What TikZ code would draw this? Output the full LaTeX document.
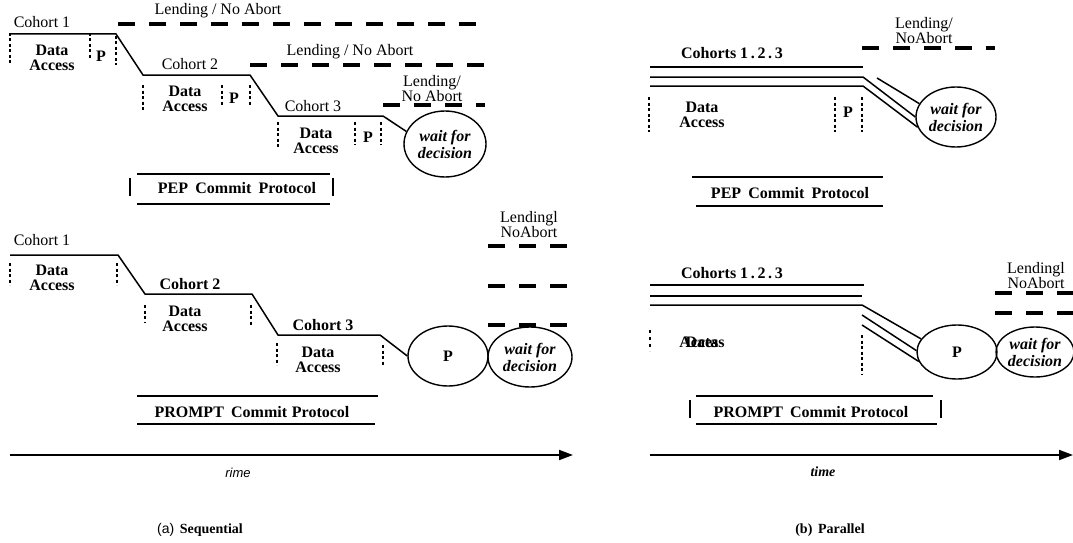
\documentclass[tikz,border=0pt]{standalone}
\usepackage{fontspec}
\setmainfont{Liberation Serif}
\newfontfamily\sansf{Liberation Sans}
\usetikzlibrary{shapes.geometric,arrows.meta}
\begin{document}
\begin{tikzpicture}[x=1pt,y=-1pt,
  ln/.style={line width=1.5pt},
  lend/.style={line width=3.5pt, dash pattern=on 17pt off 14pt},
  vd/.style={line width=1.1pt, dash pattern=on 3pt off 2.5pt},
  brk/.style={line width=2.6pt},
  bub/.style={draw, ellipse, line width=1.4pt, inner sep=0pt},
  txt/.style={inner sep=0pt, align=center, font=\fontsize{16}{15}\selectfont},
  btxt/.style={inner sep=0pt, align=center, font=\fontsize{16}{15}\selectfont\bfseries},
  itx/.style={inner sep=0pt, align=center, font=\fontsize{16}{17}\selectfont\bfseries\itshape},
  axis/.style={line width=1.8pt, -{Triangle[length=14pt,width=10pt]}}
]
\useasboundingbox (0,0) rectangle (1073,543);

% ================= (a) PEP sequential =================
\node[txt] (a1c1) at (42,22) {Cohort 1};
\node[txt] (a1c2) at (190,64) {Cohort 2};
\node[txt] (a1c3) at (313,106) {Cohort 3};
\node[btxt] (a1d1) at (52,58) {Data\\Access};
\node[btxt] (a1d2) at (185,99) {Data\\Access};
\node[btxt] (a1d3) at (316,141) {Data\\Access};
\node[btxt] (a1p1) at (101,56) {P};
\node[btxt] (a1p2) at (234,98) {P};
\node[btxt] (a1p3) at (368,137) {P};
\node[bub, minimum width=82pt, minimum height=66pt] (a1w) at (445,144) {};
\node[itx] at (a1w) {wait for\\decision};
\draw[ln] (10,34) -- (116,34) -- (143,75) -- (250,75) -- (278,116) -- (383,116) -- (a1w.162);
\node[txt] (a1l1) at (218,11) {Lending / No Abort};
\node[txt] (a1l2) at (350,52) {Lending / No Abort};
\node[txt] (a1l3) at (432,89) {Lending/\\No Abort};
\draw[lend] (118,24) -- (485,24);
\draw[lend] (250,65) -- (485,65);
\draw[lend] (383,105) -- (485,105);
\foreach \x/\ya/\yb in {10/33/63, 90/33/60, 116/36/65, 143/85/110, 222/85/105, 250/85/105, 278/122/147, 355/122/145, 381/122/145}
  \draw[vd] (\x,\ya) -- (\x,\yb);
\node[btxt] (a1pep) at (237,188) {PEP\hspace{0.45em}Commit\hspace{0.45em}Protocol};
\draw[ln] (137,174) -- (330,174);
\draw[ln] (137,204) -- (330,204);
\draw[brk] (130,178) -- (130,196);
\draw[brk] (333,178) -- (333,196);

% ================= (a) PROMPT sequential =================
\node[txt] (a2c1) at (42,240) {Cohort 1};
\node[btxt] (a2c2) at (190,284) {Cohort 2};
\node[btxt] (a2c3) at (323,325) {Cohort 3};
\node[btxt] (a2d1) at (52,278) {Data\\Access};
\node[btxt] (a2d2) at (185,319) {Data\\Access};
\node[btxt] (a2d3) at (318,360) {Data\\Access};
\node[bub, minimum width=80pt, minimum height=60pt] (a2p) at (448,356) {};
\node[btxt] at (a2p) {P};
\node[bub, minimum width=84pt, minimum height=60pt] (a2w) at (530,357) {};
\node[itx] at (a2w) {wait for\\decision};
\draw[ln] (10,255) -- (118,255) -- (145,294) -- (252,294) -- (278,335) -- (380,335) -- (a2p.west);
\foreach \x/\ya/\yb in {10/263/285, 117/263/285, 145/305/323, 251/305/325, 277/343/365, 383/345/365}
  \draw[vd] (\x,\ya) -- (\x,\yb);
\node[txt] (a2l) at (529,225) {Lendingl\\NoAbort};
\draw[lend] (488,246) -- (572,246);
\draw[lend] (488,286) -- (572,286);
\draw[lend] (488,325) -- (572,325);
\node[btxt] (a2pr) at (252,412) {PROMPT\hspace{0.45em}Commit\hspace{0.3em}Protocol};
\draw[ln] (137,396) -- (378,396);
\draw[ln] (137,424) -- (375,424);

% axis (a)
\coordinate (a0) at (10,455);
\coordinate (a9) at (573,455);
\draw[axis] (a0) -- (a9);
\node[inner sep=0pt, font=\sansf\itshape\fontsize{13}{14}\selectfont] (arime) at (238,473) {rime};
\node[inner sep=0pt, font=\fontsize{14}{15}\selectfont] (acap) at (200,530) {{\sansf (a)}\hspace{0.4em}\textbf{Sequential}};

% ================= (b) PEP parallel =================
\node[btxt] (b1c) at (732,53) {Cohorts 1\,.\,2\,.\,3};
\node[bub, minimum width=80pt, minimum height=60pt] (b1w) at (956,117) {};
\node[itx] at (b1w) {wait for\\decision};
\draw[ln] (650,67) -- (863,67);
\draw[ln] (650,77) -- (863,77) -- (b1w.180);
\draw[ln] (650,86) -- (863,86) -- (b1w.195);
\coordinate (b1s) at (877,78);
\draw[ln] (b1s) -- (b1w.160);
\foreach \x in {649,835,862}
  \draw[vd] (\x,97) -- (\x,132);
\node[btxt] (b1d) at (702,115) {Data\\Access};
\node[btxt] (b1p) at (848,112) {P};
\node[txt] (b1l) at (924,31) {Lending/\\NoAbort};
\draw[lend] (862,48) -- (995,48);
\node[btxt] (b1pep) at (790,193) {PEP\hspace{0.45em}Commit\hspace{0.45em}Protocol};
\draw[ln] (692,177) -- (883,177);
\draw[ln] (696,206) -- (883,206);

% ================= (b) PROMPT parallel =================
\node[btxt] (b2c) at (732,273) {Cohorts 1\,.\,2\,.\,3};
\node[bub, minimum width=80pt, minimum height=54pt] (b2p) at (957,352) {};
\node[btxt] at (b2p) {P};
\node[bub, minimum width=78pt, minimum height=50pt] (b2w) at (1035,352) {};
\node[itx] at (b2w) {wait for\\decision};
\draw[ln] (650,285) -- (864,285);
\draw[ln] (650,296) -- (862,296);
\draw[ln] (650,305) -- (862,305) -- (b2p.160);
\coordinate (b2s1) at (862,315);
\coordinate (b2s2) at (862,325);
\draw[ln] (b2s1) -- (b2p.178);
\draw[ln] (b2s2) -- (b2p.194);
\draw[line width=2.8pt, dash pattern=on 3pt off 4pt] (650,330) -- (650,351);
\draw[vd] (862,335) -- (862,375);
\node[btxt] (b2d1) at (702,342) {Data};
\node[btxt] (b2d2) at (702,342) {Access};
\node[txt] (b2l) at (1036,276) {Lendingl\\NoAbort};
\draw[lend] (995,293) -- (1073,293);
\draw[lend] (995,313) -- (1073,313);
\node[btxt] (b2pr) at (811,412) {PROMPT\hspace{0.45em}Commit\hspace{0.3em}Protocol};
\draw[ln] (696,396) -- (933,396);
\draw[ln] (696,424) -- (937,424);
\draw[brk] (690,400) -- (690,418);
\draw[brk] (941,400) -- (941,418);

% axis (b)
\coordinate (b0) at (650,455);
\coordinate (b9) at (1073,455);
\draw[axis] (b0) -- (b9);
\node[inner sep=0pt, font=\bfseries\itshape\fontsize{14}{15}\selectfont] (btime) at (823,472) {time};
\node[inner sep=0pt, font=\bfseries\fontsize{14}{15}\selectfont] (bcap) at (830,530) {(b)\hspace{0.4em}Parallel};
\end{tikzpicture}
\end{document}
